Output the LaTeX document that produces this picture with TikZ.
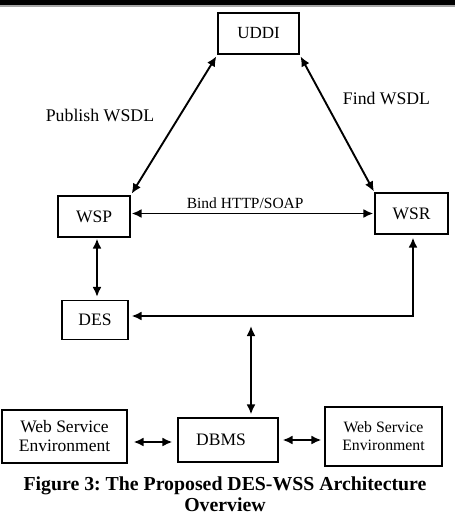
\documentclass[tikz,border=0pt]{standalone}
\usepackage{fontspec}
\setmainfont{Liberation Serif}
\usetikzlibrary{arrows.meta}
\frenchspacing
\begin{document}
\begin{tikzpicture}[x=1pt, y=-1pt,
            box/.style={draw, line width=1.2pt, inner sep=0pt, align=center},
            arr/.style={{Latex[length=10pt,width=9pt]}-{Latex[length=10pt,width=9pt]}, line width=1.9pt}
            ]
            \useasboundingbox (0,0) rectangle (455,517);
            \fill (0,0) rectangle (455,4.5);
            \draw[gray!70, line width=1.5pt] (0,6) -- (455,6);

            \node[box, minimum width=81pt, minimum height=41pt, font=\fontsize{17}{19}\selectfont] (uddi) at (258.5,33.5) {UDDI};
            \node[box, minimum width=72pt, minimum height=41pt, font=\fontsize{17.5}{19}\selectfont] (wsp) at (94,216.5) {WSP};
            \node[box, minimum width=73pt, minimum height=41pt, font=\fontsize{17.5}{19}\selectfont] (wsr) at (411.5,213.5) {WSR};
            \node[box, minimum width=66pt, minimum height=39pt, font=\fontsize{17.5}{19}\selectfont] (des) at (95,320) {DES};
            \node[box, minimum width=100pt, minimum height=44pt, font=\fontsize{17.5}{19}\selectfont] (dbms) at (228,440) {DBMS\hspace*{14pt}};
            \node[box, minimum width=125pt, minimum height=53pt, font=\fontsize{17.5}{19}\selectfont] (wse1) at (64.5,436.5) {Web Service\\Environment};
            \node[box, minimum width=117pt, minimum height=59pt, font=\fontsize{15.8}{18}\selectfont] (wse2) at (383.5,436.5) {Web Service\\Environment};

            \node[font=\fontsize{17.8}{19}\selectfont] (pub) at (100,115) {Publish WSDL};
            \node[font=\fontsize{17.7}{19}\selectfont] (find) at (386.5,98) {Find WSDL};

            \coordinate (jn) at (251,326);

            \draw[arr, shorten <=2pt, shorten >=2pt] (wsp.north east) -- (uddi.south west);
            \draw[arr, shorten <=2pt, shorten >=1pt] (uddi.south east) -- (wsr.north west);
            \draw[arr, shorten <=1pt, shorten >=1pt] (wsp.east |- wsr.west) -- (wsr.west)
                node[pos=0.47, above=1pt, font=\fontsize{15.5}{17}\selectfont] (bind) {Bind HTTP/SOAP};
            \draw[arr, shorten <=1pt, shorten >=3pt] ([xshift=3pt]wsp.south) -- ([xshift=2pt]des.north);
            \draw[arr, shorten <=3pt, shorten >=3pt] ([xshift=1.5pt]wsr.south) |- ([yshift=4pt]des.east);
            \draw[arr, shorten >=3pt] (jn) -- (jn |- dbms.north);
            \draw[arr, shorten <=6pt, shorten >=5pt] (wse1.east |- 0,442) -- (dbms.west |- 0,442);
            \draw[arr, shorten <=4pt, shorten >=3pt] (dbms.east |- 0,440) -- (wse2.west |- 0,440);

            \node[align=center, font=\bfseries\fontsize{19.8}{20.5}\selectfont] (cap) at (225,494) {Figure 3: The Proposed DES-WSS Architecture\\Overview};
            \end{tikzpicture}
\end{document}
